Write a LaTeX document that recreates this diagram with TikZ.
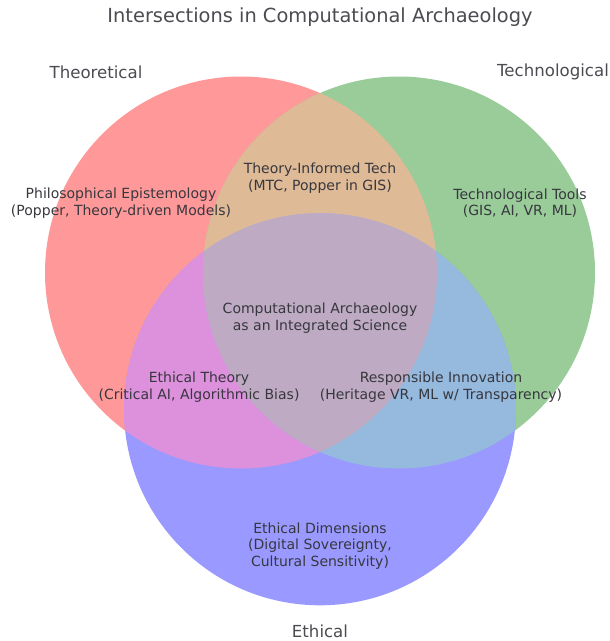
\documentclass[tikz,border=0pt]{standalone}
\usepackage{fontspec}
\setmainfont{DejaVu Sans}
\definecolor{cRed}{RGB}{255,153,153}
\definecolor{cGreen}{RGB}{153,204,153}
\definecolor{cBlue}{RGB}{153,153,255}
\definecolor{cRG}{RGB}{222,186,150}
\definecolor{cRB}{RGB}{221,145,221}
\definecolor{cGB}{RGB}{150,185,222}
\definecolor{cRGB}{RGB}{190,171,195}
\definecolor{cText}{RGB}{55,55,62}
\begin{document}
\begin{tikzpicture}[x=1pt,y=-1pt,
  region/.style={text=cText,align=center,font=\fontsize{14}{16.4}\selectfont,inner sep=0pt},
  setlabel/.style={text=cText!90!white,font=\fontsize{16.6}{19}\selectfont,inner sep=0pt},
  titlelabel/.style={text=cText!90!white,font=\fontsize{19.4}{22}\selectfont,inner sep=0pt}]
\useasboundingbox (0,0) rectangle (610,641);
\def\R{196}
\coordinate (A) at (241,272.5);
\coordinate (B) at (399,272.5);
\coordinate (C) at (320,409.3);
% base circles
\fill[cRed] (A) circle (\R);
\fill[cGreen] (B) circle (\R);
\fill[cBlue] (C) circle (\R);
% pairwise intersections
\begin{scope}\clip (A) circle (\R); \fill[cRG] (B) circle (\R);\end{scope}
\begin{scope}\clip (A) circle (\R); \fill[cRB] (C) circle (\R);\end{scope}
\begin{scope}\clip (B) circle (\R); \fill[cGB] (C) circle (\R);\end{scope}
% triple intersection
\begin{scope}\clip (A) circle (\R); \clip (B) circle (\R); \fill[cRGB] (C) circle (\R);\end{scope}
% labels
\node[titlelabel] (title) at (320,17) {Intersections in Computational Archaeology};
\node[setlabel] (theo) at (96,72) {Theoretical};
\node[setlabel] (tech) at (553,72) {Technological};
\node[setlabel] (eth) at (320,631) {Ethical};
\node[region] (r100) at (121,203) {Philosophical Epistemology\\(Popper, Theory-driven Models)};
\node[region] (r010) at (520,203) {Technological Tools\\(GIS, AI, VR, ML)};
\node[region] (r110) at (320,178) {Theory-Informed Tech\\(MTC, Popper in GIS)};
\node[region] (r111) at (320,318) {Computational Archaeology\\as an Integrated Science};
\node[region] (r101) at (199,387) {Ethical Theory\\(Critical AI, Algorithmic Bias)};
\node[region] (r011) at (441,387) {Responsible Innovation\\(Heritage VR, ML w/ Transparency)};
\node[region] (r001) at (320,546) {Ethical Dimensions\\(Digital Sovereignty,\\Cultural Sensitivity)};
\end{tikzpicture}
\end{document}
